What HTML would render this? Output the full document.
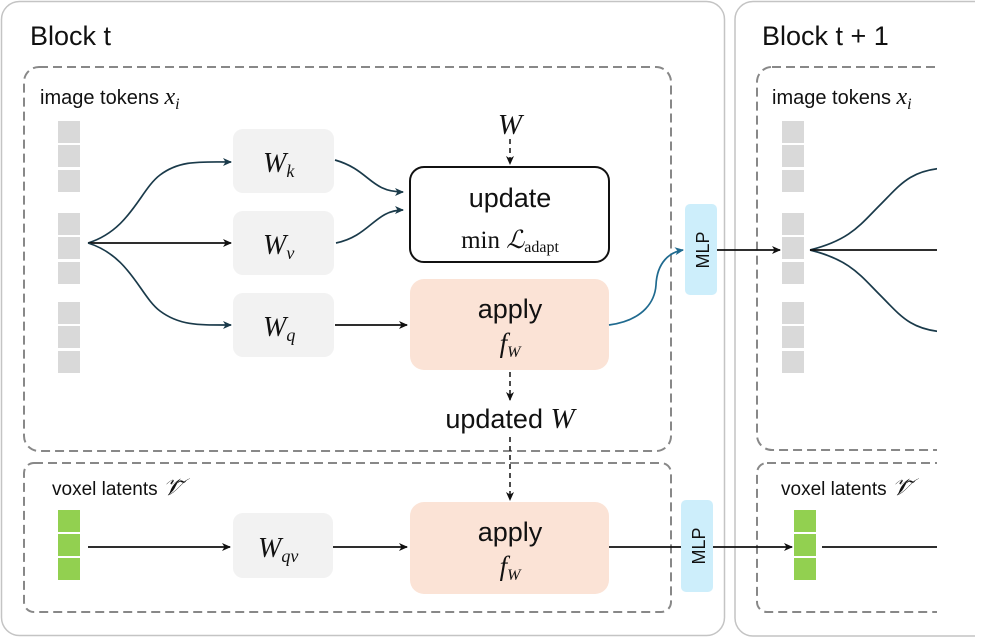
<!DOCTYPE html>
<html><head><meta charset="utf-8"><style>
body{margin:0;background:#fff}
svg{display:block}
.s{font-family:"Liberation Sans",sans-serif;fill:#111}
.m{font-family:"Liberation Serif",serif;font-style:italic;fill:#111}
</style></head><body>
<svg width="997" height="638" viewBox="0 0 997 638">
<defs>
<marker id="a" markerWidth="12" markerHeight="12" refX="9" refY="6" orient="auto" markerUnits="userSpaceOnUse"><path d="M1,2 L10,6 L1,10 L3.5,6 Z" fill="#111"/></marker>
<marker id="b" markerWidth="12" markerHeight="12" refX="9" refY="6" orient="auto" markerUnits="userSpaceOnUse"><path d="M1,2 L10,6 L1,10 L3.5,6 Z" fill="#1a3a4a"/></marker>
<marker id="c" markerWidth="12" markerHeight="12" refX="9" refY="6" orient="auto" markerUnits="userSpaceOnUse"><path d="M1,2 L10,6 L1,10 L3.5,6 Z" fill="#1f6a8f"/></marker>
<clipPath id="cl"><rect x="0" y="0" width="937" height="638"/></clipPath>
</defs>
<rect x="1.5" y="1.5" width="723" height="634" rx="18" fill="none" stroke="#c4c4c4" stroke-width="1.5"/>
<path d="M975,1.5 H753 A18,18 0 0 0 735,19.5 V618 A18,18 0 0 0 753,636 H975" fill="none" stroke="#c4c4c4" stroke-width="1.5"/>
<text x="30" y="45" class="s" font-size="27">Block t</text>
<text x="762" y="45" class="s" font-size="27">Block t + 1</text>

<g fill="none" stroke="#888" stroke-width="2" stroke-dasharray="9 5">
<rect x="24" y="67" width="647" height="384" rx="15"/>
<rect x="24" y="463" width="647" height="149" rx="10"/>
<g clip-path="url(#cl)">
<rect x="757" y="67" width="300" height="383" rx="15"/>
<rect x="757" y="463" width="300" height="149" rx="10"/>
</g>
</g>

<text x="40" y="104" class="s" font-size="20">image tokens <tspan class="m" font-size="24">x</tspan><tspan class="m" font-size="16" dy="5">i</tspan></text>
<text x="52" y="495" class="s" font-size="19">voxel latents <tspan class="m" font-size="24">𝒱̃</tspan></text>
<text x="772" y="104" class="s" font-size="20">image tokens <tspan class="m" font-size="24">x</tspan><tspan class="m" font-size="16" dy="5">i</tspan></text>
<text x="781" y="495" class="s" font-size="19">voxel latents <tspan class="m" font-size="24">𝒱̃</tspan></text>

<g fill="#d9d9d9">
<rect x="58" y="121" width="22" height="22"/><rect x="58" y="145" width="22" height="22"/><rect x="58" y="170" width="22" height="22"/>
<rect x="58" y="213" width="22" height="22"/><rect x="58" y="237" width="22" height="22"/><rect x="58" y="262" width="22" height="22"/>
<rect x="58" y="302" width="22" height="22"/><rect x="58" y="326" width="22" height="22"/><rect x="58" y="351" width="22" height="22"/>
<rect x="782" y="121" width="22" height="22"/><rect x="782" y="145" width="22" height="22"/><rect x="782" y="170" width="22" height="22"/>
<rect x="782" y="213" width="22" height="22"/><rect x="782" y="237" width="22" height="22"/><rect x="782" y="262" width="22" height="22"/>
<rect x="782" y="302" width="22" height="22"/><rect x="782" y="326" width="22" height="22"/><rect x="782" y="351" width="22" height="22"/>
</g>
<g fill="#92d050">
<rect x="58" y="510" width="22" height="22"/><rect x="58" y="534" width="22" height="22"/><rect x="58" y="558" width="22" height="22"/>
<rect x="794" y="510" width="22" height="22"/><rect x="794" y="534" width="22" height="22"/><rect x="794" y="558" width="22" height="22"/>
</g>

<g fill="#f2f2f2">
<rect x="233" y="129" width="101" height="64" rx="10"/>
<rect x="233" y="211" width="101" height="64" rx="10"/>
<rect x="233" y="293" width="101" height="64" rx="10"/>
<rect x="233" y="513" width="100" height="65" rx="10"/>
</g>
<text x="263" y="172" class="m" font-size="28">W<tspan font-size="18" dy="5">k</tspan></text>
<text x="263" y="254" class="m" font-size="28">W<tspan font-size="18" dy="5">v</tspan></text>
<text x="263" y="336" class="m" font-size="28">W<tspan font-size="18" dy="5">q</tspan></text>
<text x="258" y="557" class="m" font-size="28">W<tspan font-size="18" dy="5">qv</tspan></text>

<rect x="410" y="167" width="199" height="95" rx="14" fill="#fff" stroke="#111" stroke-width="2"/>
<text x="510" y="207" class="s" font-size="27" text-anchor="middle">update</text>
<text x="510" y="248" font-family="Liberation Serif,serif" font-size="25" text-anchor="middle" fill="#111">min <tspan font-style="italic">ℒ</tspan><tspan font-size="16" dy="4">adapt</tspan></text>
<rect x="410" y="279" width="199" height="91" rx="14" fill="#fbe3d6"/>
<text x="510" y="318" class="s" font-size="27" text-anchor="middle">apply</text>
<text x="510" y="352" class="m" font-size="27" text-anchor="middle">f<tspan font-size="16" dy="5">W</tspan></text>
<rect x="410" y="502" width="199" height="92" rx="14" fill="#fbe3d6"/>
<text x="510" y="541" class="s" font-size="27" text-anchor="middle">apply</text>
<text x="510" y="575" class="m" font-size="27" text-anchor="middle">f<tspan font-size="16" dy="5">W</tspan></text>
<text x="510" y="134" class="m" font-size="29" text-anchor="middle">W</text>
<text x="510" y="428" class="s" font-size="27" text-anchor="middle">updated <tspan class="m" font-size="29">W</tspan></text>

<rect x="685" y="204" width="32" height="91" rx="5" fill="#cdeefb"/>
<rect x="681" y="500" width="32" height="92" rx="5" fill="#cdeefb"/>
<text transform="translate(709,250) rotate(-90)" class="s" font-size="18" text-anchor="middle">MLP</text>
<text transform="translate(705,546) rotate(-90)" class="s" font-size="18" text-anchor="middle">MLP</text>

<g fill="none" stroke-width="1.7">
<g stroke="#1a3a4a">
<path d="M88,243 C130,230 140,190 160,175 C180,160 200,162 231,162" marker-end="url(#b)"/>
<path d="M88,243 L231,243" stroke="#111" marker-end="url(#a)"/>
<path d="M88,243 C130,256 140,296 160,311 C180,326 200,325 231,325" marker-end="url(#b)"/>
<path d="M335,160 C370,170 370,192 403,192" marker-end="url(#b)"/>
<path d="M336,243 C370,236 375,210 403,210" marker-end="url(#b)"/>
<g clip-path="url(#cl)">
<path d="M810,250 C850,240 860,225 880,205 C900,185 910,170 945,168"/>
<path d="M810,250 C850,260 860,275 880,295 C900,315 910,330 945,332"/>
</g>
</g>
<g stroke="#111">
<path d="M335,325 L407,325" marker-end="url(#a)"/>
<path d="M717,250 L780,250" marker-end="url(#a)"/>
<path d="M810,250 L937,250"/>
<path d="M88,547 L230,547" marker-end="url(#a)"/>
<path d="M333,547 L407,547" marker-end="url(#a)"/>
<path d="M609,547 L681,547"/>
<path d="M713,547 L792,547" marker-end="url(#a)"/>
<path d="M822,547 L937,547"/>
<g stroke-dasharray="5 4" stroke-width="1.5">
<path d="M510,139 L510,164" marker-end="url(#a)"/>
<path d="M510,372 L510,400" marker-end="url(#a)"/>
<path d="M510,437 L510,500" marker-end="url(#a)"/>
</g>
</g>
<path d="M609,325 C645,320 655,300 656,285 C657,262 670,252 683,250" stroke="#1f6a8f" marker-end="url(#c)"/>
</g>
</svg>
</body></html>
